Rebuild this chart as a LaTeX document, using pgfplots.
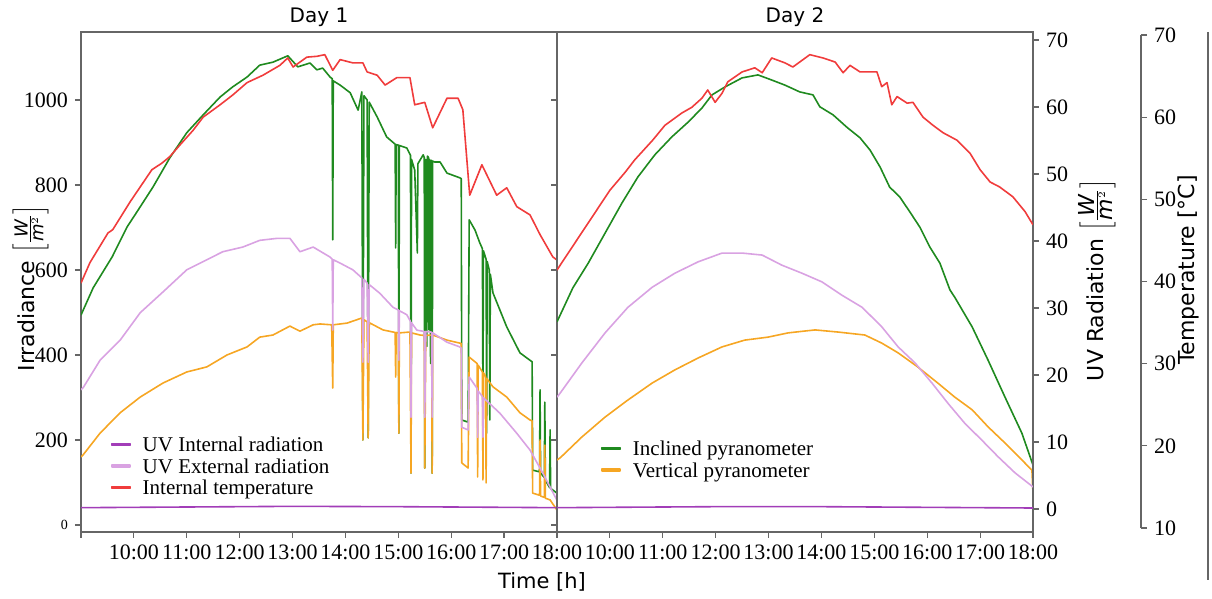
\documentclass[border=0pt]{standalone}
\usepackage{fontspec}
\setmainfont{Liberation Serif}
\setsansfont{DejaVu Sans}
\usepackage{pgfplots}
\usepackage{pgfplotstable}
\pgfplotsset{compat=1.18}

\definecolor{cGreen}{HTML}{1F8A1F}
\definecolor{cRed}{HTML}{F03C3C}
\definecolor{cOrange}{HTML}{F6A623}
\definecolor{cPink}{HTML}{D9A2E2}
\definecolor{cPurple}{HTML}{A23DB8}
\definecolor{cSpine}{HTML}{666666}

% ---- Day 1 ----
\pgfplotstableread{
h I
9.00 494
9.23 558
9.59 631
9.87 701
10.08 741
10.36 795
10.68 864
11.00 923
11.31 965
11.63 1007
11.87 1031
12.14 1054
12.38 1082
12.63 1089
12.91 1104
13.10 1078
13.33 1087
13.46 1071
13.57 1075
13.71 1054
13.75 1050
13.76 671
13.77 1045
13.90 1035
14.09 1017
14.24 976
14.31 1019
14.33 200
14.35 1010
14.41 1000
14.43 205
14.45 995
14.60 960
14.78 913
14.94 896
14.95 652
14.96 895
15.00 894
15.01 216
15.02 893
15.16 887
15.23 870
15.24 122
15.25 860
15.31 835
15.36 640
15.37 850
15.47 871
15.49 865
15.50 134
15.52 860
15.54 420
15.55 868
15.57 865
15.58 459
15.59 860
15.61 380
15.62 858
15.63 858
15.64 122
15.65 856
15.69 854
15.79 854
15.92 828
16.16 817
16.19 815
16.20 247
16.32 242
16.34 718
16.45 694
16.54 664
16.59 650
16.60 278
16.61 645
16.66 625
16.67 216
16.68 620
16.72 600
16.73 247
16.74 590
16.79 546
17.05 466
17.30 405
17.43 393
17.53 384
17.54 129
17.67 125
17.68 318
17.69 122
17.76 112
17.77 289
17.78 108
17.81 99
17.86 88
17.87 224
17.88 86
18.00 75
}\greenA

\pgfplotstableread{
h I
9.00 160
9.04 165
9.36 216
9.74 264
10.12 301
10.55 334
11.00 360
11.38 372
11.76 400
12.14 419
12.38 442
12.63 447
12.95 468
13.14 456
13.39 471
13.52 473
13.74 471
13.76 322
13.77 471
14.03 475
14.31 487
14.33 200
14.35 483
14.41 478
14.43 205
14.45 476
14.71 459
14.94 453
14.95 348
14.96 453
15.00 452
15.01 216
15.02 452
15.22 454
15.24 122
15.25 452
15.41 447
15.49 446
15.50 134
15.52 446
15.63 447
15.64 122
15.65 447
15.92 435
16.16 428
16.19 427
16.20 146
16.32 134
16.34 395
16.49 380
16.50 113
16.51 376
16.59 360
16.60 106
16.61 358
16.65 350
16.66 99
16.67 345
16.79 325
17.05 301
17.30 264
17.49 247
17.53 245
17.54 75
17.67 70
17.68 200
17.69 68
17.76 65
17.77 188
17.78 63
17.87 59
18.00 35
}\orangeA

\pgfplotstableread{
h U
9.00 17.8
9.04 18.1
9.36 22.2
9.74 25.2
10.12 29.3
10.55 32.4
11.00 35.7
11.38 37.2
11.68 38.4
12.06 39.1
12.38 40.1
12.71 40.4
12.95 40.4
13.14 38.4
13.39 39.1
13.71 37.6
13.75 37.3
13.76 26.7
13.77 37.2
13.90 36.7
14.14 35.7
14.31 34.5
14.33 21.9
14.35 34.3
14.41 33.7
14.43 21.9
14.45 33.5
14.65 32.2
14.90 30.1
15.00 29.7
15.01 22.2
15.02 29.6
15.16 29.0
15.23 28.0
15.24 13.7
15.25 27.8
15.35 26.7
15.49 26.5
15.50 13.7
15.52 26.5
15.63 26.4
15.64 13.7
15.65 26.3
15.92 24.9
16.16 24.2
16.19 24.0
16.20 12.2
16.32 11.8
16.34 19.7
16.49 18.0
16.50 10.7
16.51 17.6
16.59 16.8
16.60 10.7
16.61 16.6
16.92 14.3
17.24 11.3
17.49 8.8
17.73 5.4
18.00 1.3
}\pinkA

\pgfplotstableread{
h T
9.00 39.8
9.04 40.4
9.17 42.3
9.51 45.9
9.60 46.3
9.93 49.7
10.34 53.6
10.53 54.4
10.68 55.2
10.87 56.6
11.12 58.4
11.31 60.0
11.63 61.5
11.87 62.7
12.14 64.2
12.44 65.1
12.76 66.3
12.91 67.2
13.01 66.1
13.27 67.3
13.46 67.4
13.61 67.6
13.76 65.7
13.90 67.0
14.14 66.6
14.33 66.6
14.41 65.5
14.60 65.1
14.75 63.9
14.97 64.8
15.22 64.8
15.31 61.5
15.50 61.8
15.65 58.7
15.92 62.3
16.13 62.3
16.22 60.9
16.35 50.5
16.58 54.2
16.86 50.5
17.05 51.4
17.24 49.1
17.49 48.1
17.68 45.7
17.92 43.0
18.00 42.6
}\redA

% ---- Day 2 ----
\pgfplotstableread{
h I
9.00 478
9.30 558
9.59 616
9.91 687
10.23 758
10.53 819
10.85 871
11.17 913
11.48 948
11.74 981
11.93 1012
12.18 1031
12.50 1052
12.80 1059
13.06 1047
13.31 1035
13.59 1019
13.84 1012
13.97 984
14.22 965
14.48 936
14.73 911
14.92 882
15.11 842
15.29 795
15.48 772
15.67 737
15.86 701
16.05 654
16.24 616
16.43 553
16.52 536
16.85 466
17.15 388
17.47 301
17.79 216
18.00 141
}\greenB

\pgfplotstableread{
h I
9.00 153
9.06 158
9.47 207
9.91 254
10.34 294
10.80 334
11.23 365
11.67 393
12.12 419
12.55 435
12.99 442
13.37 452
13.88 459
14.31 454
14.82 447
15.14 428
15.45 405
15.82 372
16.20 334
16.52 301
16.85 271
17.15 231
17.47 193
17.79 153
17.98 129
18.00 75
}\orangeB

\pgfplotstableread{
h U
9.00 16.7
9.06 17.3
9.47 21.8
9.91 26.3
10.34 30.1
10.80 33.1
11.23 35.2
11.67 36.9
12.12 38.2
12.50 38.2
12.88 37.9
13.25 36.4
13.63 35.2
14.01 33.9
14.39 31.9
14.77 30.1
15.14 27.2
15.45 24.2
15.77 21.8
16.09 18.8
16.39 15.8
16.71 12.8
17.03 10.3
17.34 7.8
17.66 5.4
18.00 3.3
}\pinkB

\pgfplotstableread{
h T
9.00 41.4
9.34 44.7
9.66 47.8
10.00 51.1
10.29 53.3
10.47 54.8
10.81 57.2
11.04 59.0
11.36 60.5
11.55 61.2
11.74 62.3
11.85 63.3
11.99 61.8
12.12 62.9
12.23 64.3
12.50 65.5
12.74 66.0
12.88 65.4
13.06 67.2
13.31 66.6
13.46 66.1
13.78 67.6
14.03 67.2
14.26 66.7
14.41 65.4
14.54 66.3
14.73 65.5
15.05 65.5
15.14 63.7
15.24 64.2
15.33 61.5
15.43 62.5
15.62 61.7
15.73 61.8
15.92 60.0
16.11 59.0
16.30 58.1
16.56 57.2
16.81 55.6
17.00 53.6
17.19 52.1
17.37 51.5
17.62 50.3
17.85 48.5
18.00 46.9
}\redB

\pgfplotstableread{
h U
9.00 0.20
11.00 0.30
13.00 0.40
15.00 0.35
17.00 0.25
18.00 0.20
}\purpleA

\pgfplotstableread{
h U
9.00 0.20
12.00 0.35
14.00 0.35
16.00 0.25
18.00 0.15
}\purpleB

\pgfplotsset{
  panel/.style={scale only axis, width=238pt, height=250pt, xmin=9, xmax=18,
    every axis plot/.append style={line width=0.8pt, line join=round, no markers}},
  irr/.style={ymin=-16.5, ymax=1160},
  uvr/.style={ymin=-3.43, ymax=71.2},
  tmp/.style={ymin=9.51, ymax=70.36},
  spines/.style={axis line style={cSpine, line width=0.6pt},
    major tick style={cSpine, line width=0.6pt}, major tick length=3pt,
    tick align=outside,
    tick label style={font=\fontsize{11}{12}\selectfont}},
  daytitle/.style={title style={font=\sffamily\fontsize{10}{12}\selectfont, yshift=-7pt}},
  legstyle/.style={legend style={draw=none, fill=none, anchor=north west,
      font=\fontsize{10.5}{12}\selectfont, inner sep=0pt, column sep=5.5pt,
      row sep=0.8pt, nodes={inner sep=0.6pt}},
    legend cell align=left,
    legend image code/.code={\fill[##1] (0pt,0.2pt) rectangle (9pt,1.2pt);}},
}

\begin{document}
\begin{tikzpicture}
\path[use as bounding box] (-40.5pt,-33.5pt) rectangle (565.5pt,266pt);

% ===== Day 1 =====
\begin{axis}[panel, irr, spines, daytitle, title={Day 1},
  xtick={9,10,...,18},
  xticklabels={,10:00,11:00,12:00,13:00,14:00,15:00,16:00,17:00,18:00},
  xtick pos=bottom, ytick pos=left,
  ytick={0,200,400,600,800,1000},
  yticklabels={{\fontsize{7}{8}\selectfont 0},200,400,600,800,1000}]
  \addplot[cGreen] table[x=h, y=I] {\greenA};
  \addplot[cOrange] table[x=h, y=I] {\orangeA};
\end{axis}
\begin{axis}[panel, uvr, hide axis]
  \addplot[cPink] table[x=h, y=U] {\pinkA};
  \addplot[cPurple] table[x=h, y=U] {\purpleA};
\end{axis}
\begin{axis}[panel, tmp, hide axis, legstyle,
  legend style={at={(0.062,0.193)}}]
  \addlegendimage{cPurple}
  \addlegendentry{UV Internal radiation}
  \addlegendimage{cPink}
  \addlegendentry{UV External radiation}
  \addlegendimage{cRed}
  \addlegendentry{Internal temperature}
  \addplot[cRed, forget plot] table[x=h, y=T] {\redA};
\end{axis}

% ===== Day 2 =====
\begin{axis}[panel, irr, spines, daytitle, title={Day 2}, at={(238pt,0pt)},
  xtick={9,10,...,18},
  xticklabels={,10:00,11:00,12:00,13:00,14:00,15:00,16:00,17:00,18:00},
  xtick pos=bottom, ytick pos=left,
  ytick={0,200,400,600,800,1000}, yticklabels={}]
  \addplot[cGreen] table[x=h, y=I] {\greenB};
  \addplot[cOrange] table[x=h, y=I] {\orangeB};
\end{axis}
\begin{axis}[panel, uvr, spines, at={(238pt,0pt)}, hide x axis, axis y line*=right,
  ytick={0,10,...,70}, yticklabels={0,10,20,30,40,50,60,70}]
  \addplot[cPink] table[x=h, y=U] {\pinkB};
  \addplot[cPurple] table[x=h, y=U] {\purpleB};
\end{axis}
\begin{axis}[panel, tmp, hide axis, at={(238pt,0pt)}, legstyle,
  legend style={at={(0.092,0.185)}}]
  \addlegendimage{cGreen}
  \addlegendentry{Inclined pyranometer}
  \addlegendimage{cOrange}
  \addlegendentry{Vertical pyranometer}
  \addplot[cRed, forget plot] table[x=h, y=T] {\redB};
\end{axis}

% ===== separate temperature scale =====
\begin{axis}[at={(530pt,2pt)}, anchor=south east, scale only axis,
  width=4pt, height=246.5pt, xmin=0, xmax=1, ymin=10, ymax=70,
  spines, hide x axis, axis y line*=right,
  ytick={10,20,...,70}, yticklabels={10,20,30,40,50,60,70}]
\end{axis}

% axis labels
\node[rotate=90, anchor=base, inner sep=0pt, font=\sffamily\fontsize{11}{13}\selectfont]
  at (-23pt,122pt)
  {Irradiance {\fontsize{9}{10}\selectfont\(\Bigl[\frac{\textit{W}}{\textit{m}^{2}}\Bigr]\)}};
\node[rotate=90, inner sep=0pt, font=\sffamily\fontsize{11}{13}\selectfont] at (508pt,126pt)
  {UV Radiation \(\left[\frac{\textit{W}}{\textit{m}^{2}}\right]\)};
\node[rotate=90, inner sep=0pt, font=\sffamily\fontsize{11}{13}\selectfont] at (553.5pt,131pt)
  {Temperature [°C]};
\node[font=\sffamily\fontsize{10.5}{12}\selectfont] at (230.5pt,-25pt) {Time [h]};
\draw[cSpine, line width=0.6pt] (563.5pt,250pt) -- (563.5pt,-24pt);
\end{tikzpicture}
\end{document}
